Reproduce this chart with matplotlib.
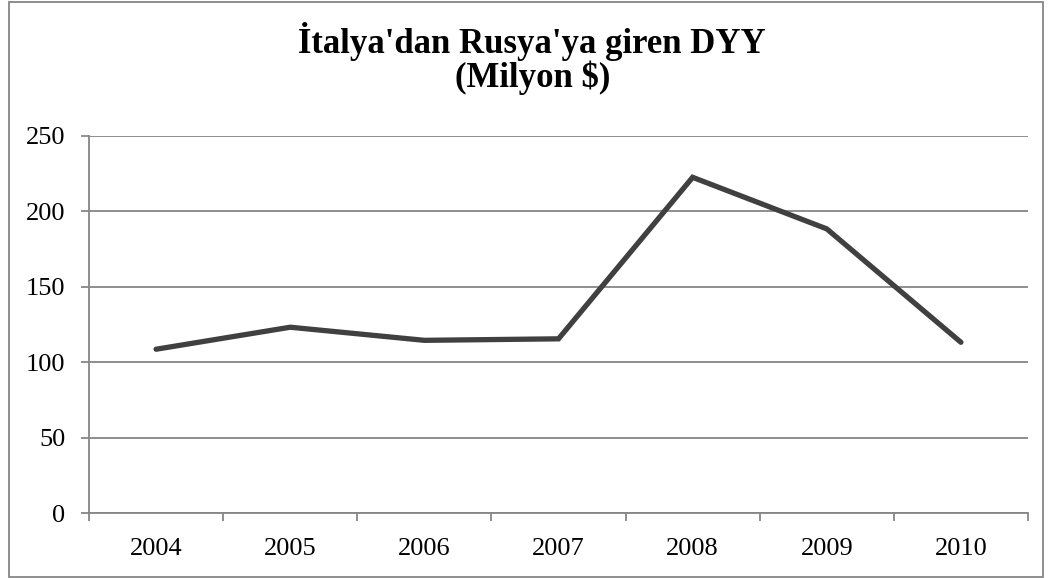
import matplotlib.pyplot as plt
from matplotlib.patches import Rectangle

years = ["2004", "2005", "2006", "2007", "2008", "2009", "2010"]
fdi = [108.6, 123.2, 114.5, 115.5, 222.6, 188.4, 113.2]
y_ticks = [0, 50, 100, 150, 200, 250]

plt.rcParams["font.family"] = ["Liberation Serif", "DejaVu Serif"]

W, H = 1052, 578
fig = plt.figure(figsize=(W / 100, H / 100), dpi=100)
ax = fig.add_axes([89 / W, 1 - 513 / H, (1028 - 89) / W, (513 - 136) / H])

x = list(range(len(years)))
ax.plot(x, fdi, color="#404040", linewidth=3.8, solid_capstyle="round",
        solid_joinstyle="miter", zorder=3)

ax.set_xlim(-0.5, len(years) - 0.5)
ax.set_ylim(0, 250)
ax.set_yticks(y_ticks)
ax.set_yticklabels([str(v) for v in y_ticks])
ax.set_xticks(x)
ax.set_xticklabels(years)
# category boundary ticks like Excel
ax.set_xticks([i - 0.5 for i in range(len(years) + 1)], minor=True)
ax.tick_params(axis="x", which="major", length=0, pad=18, labelsize=19)
ax.tick_params(axis="x", which="minor", length=6, width=1.3, color="#868686")
ax.tick_params(axis="y", length=6, width=1.3, color="#868686", pad=11, labelsize=19)

ax.grid(axis="y", color="#868686", linewidth=1.3)
ax.set_axisbelow(True)
for side in ["top", "right"]:
    ax.spines[side].set_visible(False)
for side in ["left", "bottom"]:
    ax.spines[side].set_color("#868686")
    ax.spines[side].set_linewidth(1.3)

fig.text(532 / W, 1 - 53 / H, "İtalya'dan Rusya'ya giren DYY",
         ha="center", va="baseline", fontsize=25, fontweight="bold")
fig.text(533 / W, 1 - 87 / H, "(Milyon $)",
         ha="center", va="baseline", fontsize=25, fontweight="bold")

fig.patches.append(Rectangle((9 / W, 1 / H), (1043 - 9) / W, (576 - 1) / H,
                             transform=fig.transFigure, fill=False,
                             edgecolor="#868686", linewidth=1.3))

fig.savefig("out.png", dpi=100)
